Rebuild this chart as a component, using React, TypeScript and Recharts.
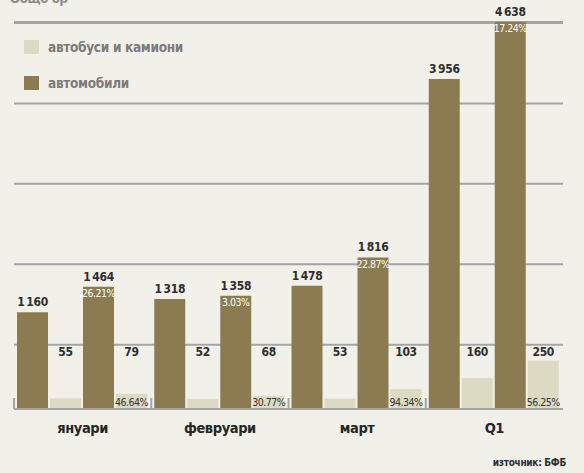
import { BarChart, Bar, XAxis, YAxis, CartesianGrid, LabelList } from "recharts"

// months + quarter total
const CATEGORIES = ["януари", "февруари", "март", "Q1"]
// previous year / current year, cars and buses+trucks
const CARS_PREV = [1160, 1318, 1478, 3956]
const BUS_PREV = [55, 52, 53, 160]
const CARS_CUR = [1464, 1358, 1816, 4638]
const BUS_CUR = [79, 68, 103, 250]
const CARS_GROWTH = ["26.21%", "3.03%", "22.87%", "17.24%"]
const BUS_GROWTH = ["46.64%", "30.77%", "94.34%", "56.25%"]
const GRID_TICKS = [770, 1735, 2700, 3660, 4625]

const CAR_COLOUR = "#8c7b50"
const BUS_COLOUR = "#dddac3"
const BG = "#f2f1e9"
const GRID = "#a4a4a4"
const FONT = "'DejaVu Sans Condensed', 'Liberation Sans Narrow', sans-serif"
const BUS_LABEL_Y = 352

const data = CATEGORIES.map((name, i) => ({
  name,
  carsPrev: CARS_PREV[i],
  busPrev: BUS_PREV[i],
  carsCur: CARS_CUR[i],
  busCur: BUS_CUR[i],
  carsGrowth: CARS_GROWTH[i],
  busGrowth: BUS_GROWTH[i],
}))

const fmt = (v: number) => String(v).replace(/\B(?=(\d{3})+(?!\d))/g, "\u2009")

function BusValue(props: any) {
  const { x, width, value } = props
  return (
    <text
      x={x + width / 2}
      y={BUS_LABEL_Y}
      textAnchor="middle"
      dominantBaseline="central"
      fontSize={12}
      fontWeight={600}
      fontFamily={FONT}
      letterSpacing={-0.3}
      fill="#2e2e2e"
    >
      {value}
    </text>
  )
}

function CategoryTick(props: any) {
  const { x, y, payload } = props
  const half = payload?.offset ?? 68.6
  return (
    <g>
      <line x1={x - half} x2={x - half} y1={y - 11} y2={y} stroke={GRID} strokeWidth={2} />
      <text
        x={x}
        y={y + 19}
        textAnchor="middle"
        dominantBaseline="central"
        fontSize={14.5}
        fontWeight={700}
        fontFamily={FONT}
        letterSpacing={-0.4}
        fill="#262626"
      >
        {payload.value}
      </text>
    </g>
  )
}

const valueLabel = {
  fontSize: 12,
  fontWeight: 600,
  fontFamily: FONT,
  letterSpacing: -0.3,
  fill: "#2e2e2e",
}

const pctLabel = {
  fontSize: 10.5,
  fontFamily: FONT,
  letterSpacing: -0.5,
}

export default function App() {
  return (
    <div
      style={{
        position: "absolute",
        left: 0,
        top: 0,
        width: 584,
        height: 473,
        background: BG,
        overflow: "hidden",
        fontFamily: FONT,
      }}
    >
      <div style={{ position: "absolute", left: 10, top: -9, fontSize: 13, fontWeight: 700, color: "#8a8a8a", letterSpacing: -0.3 }}>
        Общо бр
      </div>

      <BarChart
        width={584}
        height={473}
        data={data}
        margin={{ top: 22, right: 21, bottom: 34, left: 14 }}
        barCategoryGap={3}
        barGap={2}
      >
        <CartesianGrid vertical={false} yAxisId="cars" stroke={GRID} strokeWidth={2} />
        <XAxis
          dataKey="name"
          height={30}
          tickSize={0}
          tickMargin={0}
          tickLine={false}
          axisLine={{ stroke: GRID, strokeWidth: 2 }}
          tick={<CategoryTick />}
        />
        <YAxis yAxisId="cars" hide domain={[0, 4625]} ticks={GRID_TICKS} />
        <YAxis yAxisId="bus" hide domain={[0, 2000]} />

        <Bar dataKey="carsPrev" yAxisId="cars" fill={CAR_COLOUR} isAnimationActive={false}>
          <LabelList dataKey="carsPrev" position="top" offset={6} formatter={fmt} {...valueLabel} />
        </Bar>
        <Bar dataKey="busPrev" yAxisId="bus" fill={BUS_COLOUR} isAnimationActive={false}>
          <LabelList dataKey="busPrev" content={<BusValue />} />
        </Bar>
        <Bar dataKey="carsCur" yAxisId="cars" fill={CAR_COLOUR} isAnimationActive={false}>
          <LabelList dataKey="carsCur" position="top" offset={6} formatter={fmt} {...valueLabel} />
          <LabelList dataKey="carsGrowth" position="insideTop" offset={3} fill="#ffffff" {...pctLabel} />
        </Bar>
        <Bar dataKey="busCur" yAxisId="bus" fill={BUS_COLOUR} isAnimationActive={false}>
          <LabelList dataKey="busCur" content={<BusValue />} />
          <LabelList dataKey="busGrowth" position="insideBottom" offset={3} fill="#333333" {...pctLabel} />
        </Bar>
      </BarChart>

      {/* legend */}
      <div style={{ position: "absolute", left: 24, top: 39, display: "flex", alignItems: "center" }}>
        <span style={{ width: 15, height: 14, background: BUS_COLOUR, display: "inline-block" }} />
        <span style={{ marginLeft: 9, fontSize: 13.5, fontWeight: 700, color: "#7b7b7b", letterSpacing: -0.3 }}>автобуси и камиони</span>
      </div>
      <div style={{ position: "absolute", left: 24, top: 75, display: "flex", alignItems: "center" }}>
        <span style={{ width: 15, height: 14, background: CAR_COLOUR, display: "inline-block" }} />
        <span style={{ marginLeft: 9, fontSize: 13.5, fontWeight: 700, color: "#7b7b7b", letterSpacing: -0.3 }}>автомобили</span>
      </div>

      <div style={{ position: "absolute", right: 18, top: 457, fontSize: 10, fontWeight: 700, color: "#2e2e2e", letterSpacing: -0.3 }}>
        източник: БФБ
      </div>
    </div>
  )
}
